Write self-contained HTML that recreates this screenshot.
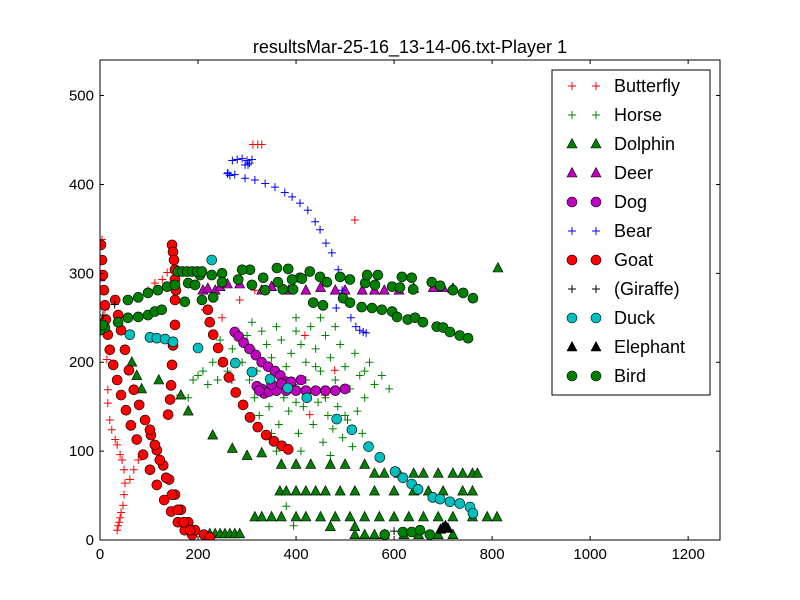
<!DOCTYPE html>
<html><head><meta charset="utf-8"><style>
body{margin:0;background:#fff}
svg{display:block;font-family:"Liberation Sans",sans-serif}
</style></head><body>
<svg id="chart" width="800" height="600" viewBox="0 0 800 600">
<rect width="800" height="600" fill="#fff"/>
<text x="410" y="53" font-size="18" text-anchor="middle">resultsMar-25-16_13-14-06.txt-Player 1</text>
<defs><clipPath id="clip"><rect x="100" y="60" width="620" height="480"/></clipPath></defs>
<g id="marks" clip-path="url(#clip)"></g>
<rect x="100" y="60" width="620" height="480" fill="none" stroke="#000" stroke-width="1"/>
<g id="axes"></g>
<g id="legend"></g>
</svg>
<script>
const xTicks=[0,200,400,600,800,1000,1200];
const yTicks=[0,100,200,300,400,500];
const butterfly=[[4,338],[6,315],[8,281],[10,259],[12,236],[14,203],[16,169],[16,154],[20,135],[24,124],[31,113],[35,107],[41,96],[45,90],[49,79],[51,64],[49,51],[47,39],[43,31],[41,25],[39,20],[37,16],[35,11],[78,90],[69,79],[61,68],[98,281],[112,289],[127,293],[137,301],[214,259],[249,250],[285,270],[316,281],[322,445],[312,445],[330,445],[418,230],[459,163],[479,191],[428,141],[520,360],[269,180],[163,163]];
const horse=[[290,200],[300,230],[310,215],[320,190],[330,235],[340,220],[350,205],[360,240],[370,225],[380,195],[390,210],[400,235],[410,220],[420,200],[430,240],[440,215],[450,190],[460,230],[470,205],[480,180],[490,220],[500,195],[510,170],[520,210],[530,185],[540,160],[550,200],[560,175],[575,185],[590,170],[305,180],[315,160],[325,140],[335,170],[345,150],[355,185],[365,130],[375,160],[385,145],[395,175],[405,120],[415,150],[425,165],[435,130],[445,155],[455,110],[465,140],[475,125],[485,150],[495,115],[505,135],[515,105],[525,145],[535,120],[420,180],[440,195],[460,160],[380,175],[400,155],[350,120],[360,100],[410,100],[470,95],[500,140],[540,190],[330,200],[310,245],[400,250],[450,250],[480,240],[180,160],[190,180],[200,185],[210,190],[220,175],[240,180],[260,190],[230,200],[380,38],[395,16],[245,225],[270,215]];
const dolphin=[[224,7],[235,7],[245,7],[255,7],[265,7],[275,7],[285,7],[520,6],[540,6],[560,6],[580,6],[620,6],[650,6],[690,6],[720,6],[316,26],[330,26],[350,26],[370,26],[400,26],[420,26],[450,26],[480,26],[510,26],[540,26],[570,26],[600,26],[630,26],[660,26],[690,26],[720,26],[760,26],[790,26],[810,26],[367,55],[380,55],[400,55],[420,55],[440,55],[460,55],[490,55],[520,55],[560,55],[600,55],[640,55],[670,55],[700,55],[740,55],[760,55],[560,75],[580,75],[610,75],[640,75],[660,75],[690,75],[720,75],[740,75],[760,75],[770,75],[400,85],[430,85],[470,85],[500,85],[540,85],[65,200],[75,185],[85,170],[120,180],[165,163],[180,145],[230,118],[270,103],[300,95],[330,98],[370,85],[812,306],[470,15],[520,15]];
const deer=[[0,296],[210,281],[220,283],[235,281],[245,285],[260,288],[285,288],[330,281],[350,285],[385,281],[420,281],[450,284],[480,281],[500,281],[535,281],[560,281],[580,281],[610,281],[640,283],[680,284],[700,284],[720,283]];
const dog=[[275,234],[283,229],[293,222],[305,215],[318,208],[330,200],[343,195],[357,190],[368,185],[380,178],[390,172],[330,170],[335,165],[345,167],[360,168],[380,168],[400,168],[420,168],[440,168],[460,168],[480,168],[500,170],[350,175],[370,176],[390,178],[410,180],[320,173],[325,168]];
const bear=[[261,413],[275,411],[296,407],[316,405],[337,401],[357,397],[377,391],[392,386],[408,379],[424,371],[439,358],[449,349],[461,334],[473,323],[486,304],[494,281],[500,270],[512,250],[522,240],[530,236],[537,234],[543,233],[482,261],[270,427],[280,428],[290,429],[300,427],[305,424],[310,428],[260,412],[265,410],[296,422],[302,422]];
const goat=[[2,332],[4,315],[6,298],[8,281],[10,264],[12,248],[16,231],[20,214],[27,197],[35,180],[43,163],[53,146],[63,129],[75,113],[88,96],[102,79],[116,62],[131,45],[145,32],[159,20],[173,11],[188,6],[31,270],[37,253],[43,236],[51,214],[59,191],[69,169],[80,152],[92,135],[104,118],[116,101],[129,84],[141,68],[153,51],[165,34],[180,20],[194,11],[212,6],[224,3],[147,332],[149,324],[151,315],[153,304],[153,293],[155,281],[153,270],[153,242],[149,219],[147,197],[145,174],[143,158],[139,141],[102,124],[112,107],[122,90],[135,70],[147,51],[159,34],[171,20],[184,11],[220,259],[224,245],[231,231],[241,216],[251,200],[263,183],[277,166],[292,152],[306,138],[322,127],[339,118],[355,111],[371,106],[384,102]];
const giraffe=[[6,253],[30,265],[600,10]];
const duck=[[228,315],[61,231],[102,228],[116,227],[133,226],[149,223],[200,216],[276,199],[310,189],[347,181],[383,171],[422,160],[483,136],[514,124],[548,105],[571,93],[602,77],[618,70],[636,63],[649,57],[679,48],[694,46],[714,43],[734,41],[755,37],[761,30]];
const elephant=[[700,14],[705,16],[710,13],[695,12]];
const bird=[[306,304],[333,295],[361,306],[384,305],[373,282],[394,282],[408,295],[428,302],[449,296],[463,290],[490,296],[510,293],[541,289],[545,298],[567,298],[561,287],[596,285],[616,296],[636,295],[612,284],[639,282],[677,290],[694,286],[720,281],[741,278],[761,272],[435,267],[455,264],[496,272],[510,267],[534,262],[555,261],[575,259],[596,257],[606,251],[628,248],[643,250],[659,245],[687,240],[700,239],[714,234],[734,230],[751,227],[10,239],[37,245],[57,250],[78,251],[98,253],[112,257],[126,259],[57,270],[78,273],[98,278],[118,281],[137,285],[153,287],[173,268],[208,270],[180,289],[194,287],[204,298],[228,298],[249,300],[290,304],[282,293],[310,287],[337,281],[363,290],[392,293],[412,294],[249,290],[231,273],[159,302],[168,302],[178,302],[188,302],[198,302],[208,302],[0,236],[6,242],[618,9],[636,9],[653,11],[581,6],[673,6]];

const X=v=>100+v*620/1265;
const Y=v=>540-v*480/540;
const NS='http://www.w3.org/2000/svg';
function mk(tag,attrs,parent){const e=document.createElementNS(NS,tag);for(const k in attrs)e.setAttribute(k,attrs[k]);parent.appendChild(e);return e;}
function marker(g,type,color,cx,cy){
  let e;
  if(type==='plus'){e=mk('path',{d:`M${cx-4} ${cy}H${cx+4}M${cx} ${cy-4}V${cy+4}`,stroke:color,'stroke-width':1,fill:'none'},g);}
  else if(type==='tri'){e=mk('path',{d:`M${cx} ${cy-5.5}L${cx+5} ${cy+4}L${cx-5} ${cy+4}Z`,fill:color,stroke:'#000','stroke-width':0.6},g);}
  else{e=mk('circle',{cx:cx,cy:cy,r:5,fill:color,stroke:'#000','stroke-width':0.6},g);}
  return e;
}
const series=[
 ['Butterfly',butterfly,'plus','#ff0000'],
 ['Horse',horse,'plus','#008000'],
 ['Dolphin',dolphin,'tri','#008000'],
 ['Deer',deer,'tri','#bf00bf'],
 ['Dog',dog,'circ','#bf00bf'],
 ['Bear',bear,'plus','#0000ff'],
 ['Goat',goat,'circ','#ff0000'],
 ['(Giraffe)',giraffe,'plus','#000000'],
 ['Duck',duck,'circ','#00bfbf'],
 ['Elephant',elephant,'tri','#000000'],
 ['Bird',bird,'circ','#008000']
];
const marks=document.getElementById('marks');
series.forEach(s=>{
  const g=mk('g',{},marks);
  
  
  s[1].forEach(p=>{
    const m=marker(g,s[2],s[3],X(p[0]),Y(p[1]));
    
    
  });
});
const axes=document.getElementById('axes');
xTicks.forEach(t=>{
  const x=X(t);
  const l=mk('path',{d:`M${x} 540V536M${x} 60V64`,stroke:'#000'},axes);
  
  
  const tx=mk('text',{x:x,y:559,'font-size':15,'text-anchor':'middle'},axes);
  tx.textContent=t;
  
  
});
yTicks.forEach(t=>{
  const y=Y(t);
  const l=mk('path',{d:`M100 ${y}H104M720 ${y}H716`,stroke:'#000'},axes);
  
  
  const tx=mk('text',{x:94,y:y+5,'font-size':15,'text-anchor':'end'},axes);
  tx.textContent=t;
  
  
});
const lg=document.getElementById('legend');


mk('rect',{x:552,y:70,width:158,height:325,fill:'#fff',stroke:'#000'},lg);
series.forEach((s,i)=>{
  const y=86+i*29;
  const g=mk('g',{},lg);
  
  
  marker(g,s[2],s[3],572,y);
  marker(g,s[2],s[3],596,y);
  const t=mk('text',{x:614,y:y+6,'font-size':18},g);
  t.textContent=s[0];
});
</script>
</body></html>
